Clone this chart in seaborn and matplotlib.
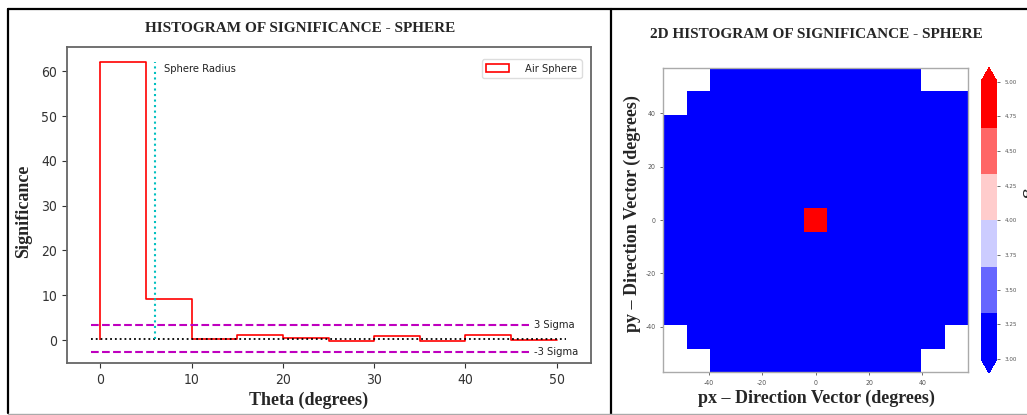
import numpy as np
import pandas as pd
import matplotlib
matplotlib.use("Agg")
import matplotlib.pyplot as plt
from matplotlib.patches import Patch
from matplotlib.lines import Line2D
import seaborn as sns

# 1D histogram of significance per theta bin
theta_edges = [0, 5, 10, 15, 20, 25, 30, 35, 40, 45, 50]
significance = [62.1, 9.1, 0.2, 1.1, 0.5, -0.2, 0.9, -0.2, 1.1, 0.1]
mean_sig = 0.3
sigma_up = 3.3
sigma_down = -2.7
line_start = -1
sigma_end = 47
mean_end = 51
sphere_radius = 6
radius_top = 62
theta_ticks = [0, 10, 20, 30, 40, 50]
sig_ticks = [0, 10, 20, 30, 40, 50, 60]

# 2D histogram, 13 x 13 cells, top row first
nan = np.nan
px_edges = [-57.0, -48.2, -39.5, -30.7, -21.9, -13.2, -4.4, 4.4, 13.2, 21.9, 30.7, 39.5, 48.2, 57.0]
py_edges = [-57.0, -48.2, -39.5, -30.7, -21.9, -13.2, -4.4, 4.4, 13.2, 21.9, 30.7, 39.5, 48.2, 57.0]
sig_2d = [
    [nan, nan, 0, 0, 0, 0, 0, 0, 0, 0, 0, nan, nan],
    [nan, 0, 0, 0, 0, 0, 0, 0, 0, 0, 0, 0, 0],
    [0, 0, 0, 0, 0, 0, 0, 0, 0, 0, 0, 0, 0],
    [0, 0, 0, 0, 0, 0, 0, 0, 0, 0, 0, 0, 0],
    [0, 0, 0, 0, 0, 0, 0, 0, 0, 0, 0, 0, 0],
    [0, 0, 0, 0, 0, 0, 0, 0, 0, 0, 0, 0, 0],
    [0, 0, 0, 0, 0, 0, 62.1, 0, 0, 0, 0, 0, 0],
    [0, 0, 0, 0, 0, 0, 0, 0, 0, 0, 0, 0, 0],
    [0, 0, 0, 0, 0, 0, 0, 0, 0, 0, 0, 0, 0],
    [0, 0, 0, 0, 0, 0, 0, 0, 0, 0, 0, 0, 0],
    [0, 0, 0, 0, 0, 0, 0, 0, 0, 0, 0, 0, 0],
    [nan, 0, 0, 0, 0, 0, 0, 0, 0, 0, 0, 0, nan],
    [nan, nan, 0, 0, 0, 0, 0, 0, 0, 0, 0, nan, nan],
]
px_ticks = [-40, -20, 0, 20, 40]
py_ticks = [-40, -20, 0, 20, 40]
cbar_ticks = [3.00, 3.25, 3.50, 3.75, 4.00, 4.25, 4.50, 4.75, 5.00]

sns.set_style("ticks")
plt.rcParams["font.family"] = ["DejaVu Sans"]
plt.rcParams["font.stretch"] = "condensed"
serif = dict(family="Liberation Serif", weight="bold", stretch="normal")

W, H = 1027, 415
fig = plt.figure(figsize=(W / 100, H / 100), dpi=100)


def box(x0, y0, x1, y1):
    return [x0 / W, 1 - y1 / H, (x1 - x0) / W, (y1 - y0) / H]


# ---- left panel
ax1 = fig.add_axes(box(66.9, 46.7, 590.5, 363.3))
centers = [(a + b) / 2 for a, b in zip(theta_edges[:-1], theta_edges[1:])]
sns.histplot(x=centers, weights=significance, bins=theta_edges, element="step",
             fill=False, color="red", linewidth=1.2, ax=ax1)
ax1.vlines([theta_edges[0], theta_edges[-1]], 0, [significance[0], significance[-1]],
           colors="red", linewidth=1.2)
ax1.hlines(mean_sig, line_start, mean_end, colors="k", linestyles=":", linewidth=1.3)
ax1.hlines([sigma_up, sigma_down], line_start, sigma_end, colors="m",
           linestyles="--", linewidth=1.5)
ax1.vlines(sphere_radius, mean_sig, radius_top, colors="c", linestyles=":", linewidth=1.5)
ax1.text(sphere_radius + 1, 60.5, "Sphere Radius", fontsize=8, va="center", color="#222")
ax1.text(sigma_end + 0.5, sigma_up, "3 Sigma", fontsize=8, va="center", color="#222")
ax1.text(sigma_end + 0.5, sigma_down, "-3 Sigma", fontsize=8, va="center", color="#222")

ax1.set_xlim(-3.66, 53.7)
ax1.set_ylim(-5.2, 65.5)
ax1.set_xticks(theta_ticks)
ax1.set_yticks(sig_ticks)
ax1.set_xlabel("")
ax1.set_ylabel("")
ax1.tick_params(labelsize=10, colors="#333", length=3.5, width=0.8)
for s in ax1.spines.values():
    s.set_visible(True)
    s.set_color("#666")
    s.set_linewidth(1.3)

leg = ax1.legend(handles=[Patch(facecolor="none", edgecolor="red", linewidth=1.2,
                                label="Air Sphere")],
                 loc="upper right", bbox_to_anchor=(581.7 / W, 1 - 59.3 / H),
                 bbox_transform=fig.transFigure, borderaxespad=0, fontsize=8,
                 handletextpad=1.5, framealpha=1, edgecolor="#ddd")

fig.text(300.3 / W, 1 - 29 / H, "HISTOGRAM OF SIGNIFICANCE - SPHERE", ha="center",
         va="center", fontsize=11, **serif)
fig.text(308.7 / W, 1 - 400 / H, "Theta (degrees)", ha="center", va="center",
         fontsize=13, **serif)
fig.text(24 / W, 1 - 211.7 / H, "Significance", ha="center", va="center",
         rotation=90, fontsize=13, **serif)

# ---- right panel
ax2 = fig.add_axes(box(663.3, 68, 968, 372))
cax = fig.add_axes(box(981, 67.7, 997, 373))
cmap = matplotlib.colormaps["bwr"].resampled(6)
sns.heatmap(pd.DataFrame(sig_2d), ax=ax2, cmap=cmap, vmin=3, vmax=5, cbar_ax=cax,
            cbar_kws=dict(extend="both", ticks=cbar_ticks, format="%.2f"),
            xticklabels=False, yticklabels=False)
ax2.set_xticks(np.interp(px_ticks, px_edges, np.arange(len(px_edges))))
ax2.set_xticklabels([str(t) for t in px_ticks])
ax2.set_yticks(np.interp(py_ticks, py_edges, np.arange(len(py_edges))[::-1]))
ax2.set_yticklabels([str(t) for t in py_ticks])
ax2.tick_params(labelsize=5, colors="#555", length=2, width=0.6)
for s in ax2.spines.values():
    s.set_visible(True)
    s.set_color("#aaa")
    s.set_linewidth(1.0)

cax.tick_params(labelsize=4.5, colors="#555", length=2, width=0.6)
cb = ax2.collections[0].colorbar
cb.set_label("Significance", rotation=270, fontsize=13, labelpad=15, **serif)

fig.text(816 / W, 1 - 34 / H, "2D HISTOGRAM OF SIGNIFICANCE - SPHERE", ha="center",
         va="center", fontsize=11, **serif)
fig.text(816.5 / W, 1 - 398 / H, "px \u2013 Direction Vector (degrees)", ha="center",
         va="center", fontsize=13, **serif)
fig.text(632 / W, 1 - 214 / H, "py \u2013 Direction Vector (degrees)", ha="center",
         va="center", rotation=90, fontsize=13, **serif)

# ---- panel borders
def line(xs, ys, color="k", lw=1.6):
    fig.add_artist(Line2D([x / W for x in xs], [1 - y / H for y in ys],
                          transform=fig.transFigure, color=color, linewidth=lw))


line([8, 1027], [9, 9])
line([8, 8], [9, 413])
line([611, 611], [9, 415])
line([8, 1027], [413.5, 413.5], color="#aaa", lw=1.0)

fig.savefig("out.png", dpi=100)
